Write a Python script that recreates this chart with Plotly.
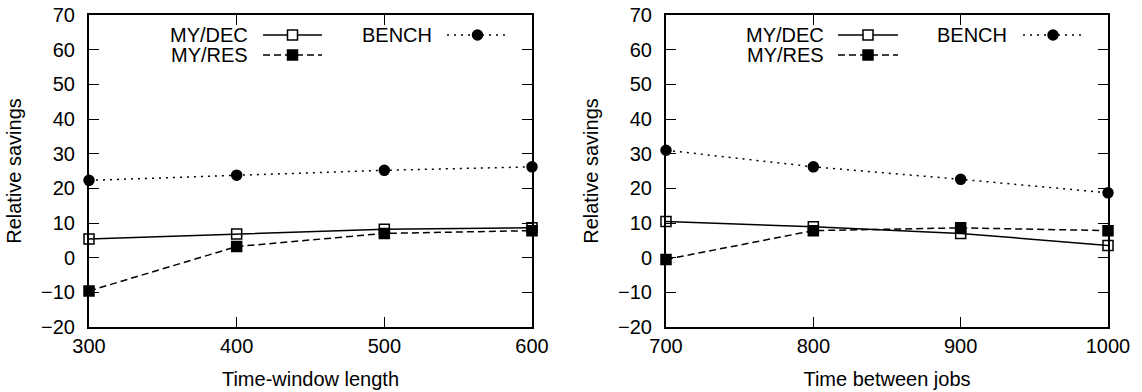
import plotly.graph_objects as go

# ---- data ----
x_left = [300, 400, 500, 600]
left_dec = [5.4, 6.8, 8.2, 8.6]
left_res = [-9.6, 3.2, 7.0, 7.8]
left_bench = [22.3, 23.8, 25.2, 26.2]

x_right = [700, 800, 900, 1000]
right_dec = [10.4, 8.9, 7.0, 3.5]
right_res = [-0.5, 7.8, 8.6, 7.8]
right_bench = [31.0, 26.2, 22.6, 18.7]

series_names = ["MY/DEC", "MY/RES", "BENCH"]
x_titles = ["Time-window length", "Time between jobs"]
y_title = "Relative savings"
y_ticks = [-20, -10, 0, 10, 20, 30, 40, 50, 60, 70]

W, H = 1142, 392
FONT = "Liberation Sans, Arial, Helvetica, sans-serif"
FS = 20

styles = {
    "MY/DEC": dict(dash="solid", symbol="square-open"),
    "MY/RES": dict(dash="7px,4px", symbol="square"),
    "BENCH": dict(dash="2px,5px", symbol="circle"),
}

fig = go.Figure()

panels = [
    (x_left, [left_dec, left_res, left_bench], "x", "y"),
    (x_right, [right_dec, right_res, right_bench], "x2", "y2"),
]
for xs, ys_list, xa, ya in panels:
    for name, ys in zip(series_names, ys_list):
        st = styles[name]
        fig.add_trace(go.Scatter(
            x=xs, y=ys, name=name, mode="lines+markers",
            xaxis=xa, yaxis=ya, showlegend=False,
            line=dict(color="black", width=1.5, dash=st["dash"]),
            marker=dict(symbol=st["symbol"], size=10, color="black",
                        line=dict(color="black", width=1.5)),
            cliponaxis=False,
        ))

def px_x(p):
    return p / W

def px_y(p):
    return 1 - p / H

axis_common = dict(
    showline=True, linecolor="black", linewidth=2, mirror="allticks",
    ticks="inside", ticklen=10, tickwidth=1.3, tickcolor="black",
    showgrid=False, zeroline=False, automargin=False,
    tickfont=dict(family=FONT, size=FS, color="black"),
    title_font=dict(family=FONT, size=FS, color="black"),
)

fig.update_layout(
    width=W, height=H,
    margin=dict(l=0, r=0, t=0, b=0),
    paper_bgcolor="white", plot_bgcolor="white",
    font=dict(family=FONT, color="black"),
    xaxis=dict(domain=[px_x(89), px_x(532)], range=[300, 600],
               tickvals=x_left, title=dict(text=x_titles[0], standoff=16),
               ticklabelstandoff=0, anchor="y", **axis_common),
    yaxis=dict(domain=[px_y(327), px_y(15)], range=[-20, 70],
               tickvals=y_ticks, title=dict(text=y_title, standoff=14),
               ticklabelstandoff=8, anchor="x", **axis_common),
    xaxis2=dict(domain=[px_x(666), px_x(1108)], range=[700, 1000],
                tickvals=x_right, title=dict(text=x_titles[1], standoff=16),
                ticklabelstandoff=0, anchor="y2", **axis_common),
    yaxis2=dict(domain=[px_y(327), px_y(15)], range=[-20, 70],
                tickvals=y_ticks, title=dict(text=y_title, standoff=14),
                ticklabelstandoff=8, anchor="x2", **axis_common),
)

# ---- gnuplot-style keys (text, then line sample with marker) ----
key_layout = [
    dict(col1=(250, 263, 322), col2=(434, 447, 508)),
    dict(col1=(826, 838, 898), col2=(1009, 1023, 1083)),
]
rows = {"MY/DEC": ("col1", 35), "MY/RES": ("col1", 55), "BENCH": ("col2", 35)}

shapes = []
annotations = []
for kl in key_layout:
    for name in series_names:
        col, ypx = rows[name]
        tr, l0, l1 = kl[col]
        st = styles[name]
        annotations.append(dict(
            x=px_x(tr), y=px_y(ypx), xref="paper", yref="paper",
            xanchor="right", yanchor="middle", showarrow=False,
            text=name, font=dict(family=FONT, size=FS, color="black"),
        ))
        shapes.append(dict(
            type="line", xref="paper", yref="paper",
            x0=px_x(l0), x1=px_x(l1), y0=px_y(ypx), y1=px_y(ypx),
            line=dict(color="black", width=1.5, dash=st["dash"]),
        ))
        mx = (l0 + l1) / 2
        shp = "circle" if st["symbol"] == "circle" else "rect"
        fill = "white" if st["symbol"] == "square-open" else "black"
        shapes.append(dict(
            type=shp, xref="paper", yref="paper",
            xsizemode="pixel", ysizemode="pixel",
            xanchor=px_x(mx), yanchor=px_y(ypx),
            x0=-5, x1=5, y0=-5, y1=5,
            fillcolor=fill, line=dict(color="black", width=1.5),
        ))

fig.update_layout(shapes=shapes, annotations=annotations)

# remove the default 8px page margin so the figure fills the window exactly
fig.write_html(
    "out.html",
    config={"displayModeBar": False},
    post_script="document.body.style.margin='0px';document.body.style.overflow='hidden';",
)
